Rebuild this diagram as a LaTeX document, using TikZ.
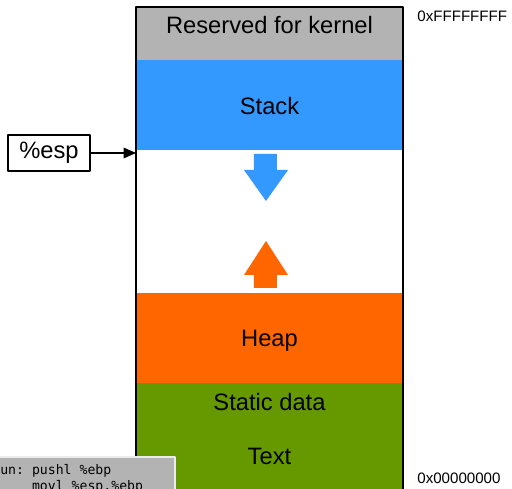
\documentclass[tikz,border=0pt]{standalone}
\usepackage{fontspec}
\setmainfont{Liberation Sans}
\setmonofont{DejaVu Sans Mono}
\usetikzlibrary{arrows.meta}
\definecolor{kernelgray}{HTML}{B3B3B3}
\definecolor{stackblue}{HTML}{3399FF}
\definecolor{heaporange}{HTML}{FF6600}
\definecolor{datagreen}{HTML}{669900}
\begin{document}
\begin{tikzpicture}[x=0.02cm, y=-0.02cm, line join=round, font=\fontsize{13.5}{16}\selectfont, >={Triangle[length=7pt,width=6pt]},
  lbl/.style={inner sep=0pt},
  addr/.style={anchor=west, inner sep=0pt, font=\fontsize{8.6}{10}\selectfont}]
	\useasboundingbox (0,0) rectangle (512,489);
	\clip (0,0) rectangle (512,489);
	% memory regions
	\fill[kernelgray] (136,7) rectangle (403,60);
	\fill[stackblue] (136,60) rectangle (403,150);
	\fill[heaporange] (136,293) rectangle (403,383);
	\fill[datagreen] (136,383) rectangle (403,500);
	\draw[line width=0.75pt] (136,500) |- (403,7) -- (403,500);
	\node[lbl] (kernel) at (269.5,25) {Reserved for kernel};
	\node[lbl] (stack) at (269.5,106) {Stack};
	\node[lbl] (heap) at (269.5,341) {Heap};
	\node[lbl] (static) at (269.5,402) {Static data};
	\node[lbl] (text) at (269.5,456) {Text};
	% growth arrows
	\fill[stackblue] (254,154)--(277,154)--(277,170)--(288,170)--(266,201)--(244,170)--(254,170)--cycle;
	\fill[heaporange] (254,288)--(277,288)--(277,275)--(288,275)--(266,241)--(244,275)--(254,275)--cycle;
	% stack pointer
	\node[draw, line width=0.6pt, minimum width=1.64cm, minimum height=0.72cm, inner sep=0pt] (esp) at (49,153) {\%esp};
	\coordinate (sp) at (136,153);
	\draw[->, line width=0.6pt] (esp) -- (sp);
	\node[addr] (top) at (417,16) {0xFFFFFFFF};
	\node[addr] (bottom) at (417,478) {0x00000000};
	% code
	\filldraw[fill=kernelgray, draw=gray!15, line width=0.8pt] (-10,457) rectangle (175,510);
	\node[anchor=base west, inner sep=0pt, align=left, font=\ttfamily\fontsize{7.5}{9.3}\selectfont] (code) at (-8,491)
		{fun: pushl \%ebp\\\phantom{fun:~}movl \%esp,\%ebp};
\end{tikzpicture}
\end{document}
